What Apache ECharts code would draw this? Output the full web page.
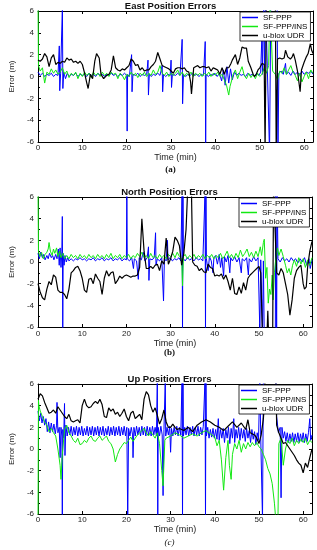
<!DOCTYPE html>
<html>
<head>
<meta charset="utf-8">
<script src="https://cdn.jsdelivr.net/npm/echarts@6/dist/echarts.min.js"></script>
<style>
html,body{margin:0;padding:0;background:#fff;}
#chart{width:317px;height:550px;}
</style>
</head>
<body>
<div id="chart"></div>
<script>
const seriesNames = ['SF-PPP', 'SF-PPP/INS', 'u-blox UDR'];
const panelTitles = ['East Position Errors', 'North Position Errors', 'Up Position Errors'];
const panelCaptions = ['(a)', '(b)', '(c)'];
const xLabel = 'Time (min)';
const yLabel = 'Error (m)';

// ---- East ----
const eastPPP = [[0,0.4],[0.5,0.1],[1,0.3],[1.5,0.0],[2,0.2],[2.5,0.1],[3,0.3],[3.5,0.0],[4,0.2],[4.5,0.1],[4.8,2.8],[4.9,-1.3],[5.1,0.3],[5.5,6.5],[5.6,-1.1],[5.8,0.4],[6.2,-0.2],[6.6,0.3],[7,0.0],[7.5,0.2],[8,0.1],[8.5,0.3],[9,0.0],[9.5,0.2],[10,0.1],[10.5,0.2],[11,0.0],[11.5,0.3],[12,0.1],[12.5,0.2],[13,0.0],[13.5,0.3],[14,0.1],[14.5,0.2],[15,0.0],[15.5,0.2],[16,0.1],[16.5,0.3],[17,0.1],[17.5,0.2],[18,0.0],[18.5,0.2],[19,0.1],[19.5,0.3],[20,0.1],[20.1,-5.0],[20.2,0.2],[20.6,0.0],[21.1,2.0],[21.2,-1.4],[21.4,0.2],[22,0.1],[22.5,0.3],[23,0.0],[23.5,0.2],[24,0.1],[24.5,0.2],[24.8,1.5],[24.9,-1.7],[25.1,0.2],[25.5,0.0],[26,0.2],[26.5,0.1],[27,0.3],[27.5,0.1],[28,1.0],[28.1,-1.4],[28.3,0.2],[28.8,0.0],[29.3,0.2],[29.8,0.1],[30.0,1.5],[30.1,-1.0],[30.3,0.2],[31,0.1],[31.5,0.3],[32,0.1],[32.5,3.4],[32.6,-2.5],[32.8,0.2],[33.3,0.0],[33.8,0.2],[34.3,0.1],[34.8,0.3],[35.3,0.1],[35.8,0.2],[36.3,0.0],[36.8,0.2],[37.3,0.1],[37.7,3.2],[37.8,-6.5],[37.9,0.2],[38.4,0.0],[38.9,0.2],[39.4,0.1],[39.9,0.3],[40.4,0.0],[40.9,0.3],[41.4,-0.4],[41.8,0.6],[42.2,-0.8],[42.6,0.9],[43,-0.6],[43.4,0.7],[43.8,-0.3],[44.3,0.4],[44.8,0.1],[45.3,0.3],[45.8,0.1],[46.3,0.2],[46.8,0.0],[47.3,0.3],[47.8,0.1],[48.3,0.2],[48.8,0.0],[49.3,0.3],[49.8,0.1],[50.2,0.4],[50.5,4.0],[50.6,0.2],[50.9,7],[51.1,0.5],[51.3,7],[51.5,7],[52.2,-7],[52.5,7],[53.9,7],[54.1,-7],[54.3,0.3],[54.8,0.5],[55.3,0.2],[55.8,1.2],[56,0.2],[56.5,0.4],[57,0.1],[57.5,0.5],[58,0.2],[58.5,0.4],[59,0.1],[59.5,0.5],[60,0.2],[60.5,0.4],[61,0.3],[61.5,0.5],[62,0.2]];
const eastINS = [[0,7],[0.1,1.0],[0.5,0.5],[1,0.8],[1.5,-0.6],[2,0.4],[2.5,0.2],[3,0.7],[3.5,0.3],[4,0.6],[4.5,0.2],[5,0.4],[5.5,0.8],[6,0.2],[6.5,0.5],[7,-0.1],[7.5,0.3],[8,0.1],[8.5,0.4],[9,-0.2],[9.5,0.3],[10,0.0],[10.5,0.4],[11,0.1],[11.5,0.3],[12,-0.1],[12.5,0.4],[13,0.1],[13.5,0.3],[14,0.0],[14.5,0.4],[15,0.1],[15.5,0.3],[16,0.0],[16.5,0.4],[17,0.2],[17.5,0.3],[18,-0.2],[18.5,0.3],[19,0.1],[19.5,-0.3],[20,0.2],[20.5,0.0],[21,0.4],[21.5,0.1],[22,0.3],[22.5,-0.1],[23,0.3],[23.5,0.1],[24,0.4],[24.5,0.0],[25,0.3],[25.5,0.1],[26,0.6],[26.5,0.2],[27,0.4],[27.5,1.0],[28,0.3],[28.5,0.1],[29,0.4],[29.5,0.0],[30,0.3],[30.5,0.1],[31,0.3],[31.5,0.6],[32,0.1],[32.5,0.4],[33,0.0],[33.5,0.3],[34,0.1],[34.5,0.4],[35,0.0],[35.5,0.3],[36,0.1],[36.5,0.3],[37,0.0],[37.5,0.3],[38,0.1],[38.5,0.4],[39,0.0],[39.5,0.3],[40,0.1],[40.5,0.4],[41,0.0],[41.5,0.2],[42,-0.3],[42.5,-0.8],[43,-1.7],[43.3,-0.9],[43.7,-0.3],[44,0.2],[44.5,0.6],[45,-0.2],[45.5,0.4],[46,0.9],[46.5,0.1],[47,-0.2],[47.5,0.3],[48,-0.1],[48.5,0.2],[49,-0.2],[49.5,0.3],[50,0.0],[50.5,0.2],[51,0.8],[51.5,0.3],[52,1.0],[52.3,7],[52.7,7],[52.9,0.5],[53.5,0.2],[54,-0.3],[54.5,0.5],[55,0.3],[55.5,0.8],[56,0.2],[56.5,0.6],[57,1.0],[57.5,0.4],[58,0.1],[58.5,-0.4],[59,0.3],[59.5,-0.5],[60,0.0],[60.5,0.4],[61,-0.2],[61.5,0.6],[62,0.3]];
const eastUDR = [[0,1.5],[0.5,1.4],[1,1.6],[1.5,2.1],[2,1.8],[2.5,0.9],[3,1.7],[3.5,2.0],[4,1.1],[4.5,1.3],[5,1.2],[5.5,1.4],[6,1.3],[6.5,1.7],[7,1.5],[7.5,1.6],[8,1.3],[8.5,1.4],[9,1.2],[9.5,1.4],[10,1.1],[10.5,0.3],[11,-0.6],[11.3,-1.1],[11.8,0.2],[12.3,-0.2],[12.8,1.4],[13.2,2.1],[13.8,1.7],[14.2,0.2],[14.8,-0.2],[15.5,0.1],[16,0.2],[16.5,0.6],[17,1.9],[17.5,0.8],[18,0.6],[18.5,0.5],[19,0.7],[19.5,0.6],[20,0.8],[20.5,1.0],[21,1.6],[21.5,1.4],[22,1.0],[22.5,1.1],[23,0.6],[23.5,0.8],[24,0.5],[24.5,0.6],[25,0.6],[25.5,0.9],[26,1.1],[26.5,1.4],[27,2.2],[27.5,1.6],[28,1.0],[28.5,0.9],[29,0.8],[29.5,0.7],[30,0.5],[30.5,0.3],[31,0.7],[31.5,0.8],[32,0.8],[32.5,0.7],[33,0.8],[33.5,0.5],[34,0.4],[34.4,-0.5],[34.6,-1.6],[34.9,-0.2],[35.1,0.8],[35.5,0.9],[36,1.0],[36.5,0.8],[37,0.9],[37.5,0.9],[38,0.8],[38.5,0.9],[39,0.5],[39.5,0.8],[40,0.7],[40.5,0.6],[41,0.2],[41.5,0.8],[42,0.2],[42.5,0.8],[43,0.8],[43.5,1.2],[43.8,1.5],[44.5,2.0],[45,1.1],[45.5,1.7],[46,2.7],[46.5,2.6],[47,2.6],[47.4,1.4],[48,0.8],[48.5,0.2],[48.8,0.0],[49.2,0.2],[49.6,0.6],[50,0.8],[50.5,1.2],[51,1.1],[51.2,-7],[51.5,8],[53.5,8],[53.7,-7],[54,1.6],[54.5,1.7],[55,1.6],[55.5,1.7],[55.8,2.4],[56.3,1.8],[56.9,1.6],[57.3,1.8],[57.6,2.1],[58,1.5],[58.5,0.5],[59.1,-1.4],[59.4,0.6],[60,1.3],[60.5,1.8],[60.9,2.1],[61.4,3.0],[61.7,2.4],[62,2.1]];

// ---- North ----
const northPPP = [[0,0.8],[0.3,0.3],[0.6,0.9],[1,0.4],[1.3,0.7],[1.6,0.2],[2,0.6],[2.3,0.3],[2.6,0.8],[3,0.4],[3.3,0.6],[3.6,0.2],[4,0.7],[4.3,0.3],[4.6,1.2],[4.8,-0.3],[5,1.3],[5.2,-0.5],[5.4,1.0],[5.5,4.2],[5.6,-6.5],[5.7,0.8],[5.9,-0.3],[6.1,0.6],[6.4,0.0],[6.7,0.4],[7,0.1],[7.5,0.3],[8,0.1],[8.5,0.3],[9,0.2],[9.5,0.4],[10,0.2],[10.5,0.3],[11,0.1],[11.5,0.3],[12,0.2],[12.5,0.4],[13,0.1],[13.5,0.3],[14,0.2],[14.5,0.4],[15,0.1],[15.5,0.3],[16,0.2],[16.5,0.4],[17,0.1],[17.5,0.3],[18,0.2],[18.5,0.4],[19,0.1],[19.5,0.3],[20,0.2],[20.1,6.5],[20.2,0.3],[20.7,0.1],[21.2,0.4],[21.6,-0.6],[21.8,0.3],[22.3,0.1],[22.7,-1.6],[22.9,0.4],[23.4,0.2],[23.8,0.9],[24.2,0.1],[24.7,0.4],[25,1.4],[25.1,-1.7],[25.3,0.3],[25.8,0.2],[26.3,0.4],[26.6,2.7],[26.7,-0.3],[27,0.3],[27.5,0.1],[28,0.4],[28.4,-3.6],[28.6,0.3],[29,0.1],[29.3,2.0],[29.4,0.2],[29.9,0.4],[30.4,0.1],[30.9,0.3],[31.4,0.2],[31.9,0.4],[32.3,0.1],[32.6,6.5],[32.7,-6.5],[32.8,6.5],[32.9,0.3],[33.3,0.1],[33.8,0.4],[34.3,0.2],[34.8,0.3],[35.3,0.1],[35.8,0.4],[36.3,0.2],[36.8,0.3],[37.3,0.1],[37.8,6.5],[37.9,-6.5],[38.0,6.5],[38.1,0.3],[38.5,-0.8],[38.8,0.5],[39.2,0.1],[39.6,-1.0],[39.8,0.4],[40.2,0.6],[40.6,-0.2],[41,0.7],[41.3,-0.5],[41.6,0.4],[42,-1.3],[42.2,0.5],[42.6,0.0],[43,0.6],[43.4,-1.0],[43.6,0.4],[44,0.1],[44.5,0.5],[45,0.0],[45.5,0.4],[46,-1.0],[46.2,0.3],[46.7,0.1],[47.2,0.4],[47.6,-1.2],[47.8,0.3],[48.3,0.0],[48.8,0.5],[49.3,0.1],[49.8,0.4],[50.2,-6.5],[50.4,0.2],[50.8,-6.5],[51.0,0.1],[51.2,-7],[53.7,-7],[53.8,7],[54.0,-7],[54.1,7],[54.3,0.3],[54.8,0.0],[55.3,0.4],[55.8,0.1],[56.3,0.3],[56.8,0.0],[57.3,0.4],[57.8,0.1],[58.3,0.3],[58.8,-0.1],[59.3,0.3],[59.8,0.0],[60.3,0.4],[60.8,-0.3],[61.3,0.3],[61.6,-0.6],[62,0.2]];
const northINS = [[0,7],[0.1,1.0],[0.4,0.5],[0.8,0.9],[1.2,0.3],[1.6,0.7],[2,0.9],[2.3,1.2],[2.5,1.8],[2.8,1.0],[3.2,0.6],[3.5,1.2],[3.8,0.8],[4.2,1.3],[4.5,0.5],[4.9,1.0],[5.2,0.4],[5.6,0.8],[6,0.3],[6.5,0.6],[7,0.3],[7.5,0.7],[8,0.4],[8.5,0.6],[9,0.3],[9.5,0.7],[10,0.4],[10.5,0.6],[11,0.3],[11.5,0.7],[12,0.4],[12.5,0.6],[13,0.3],[13.5,0.7],[14,0.4],[14.5,0.6],[15,0.3],[15.5,0.7],[16,0.4],[16.5,0.8],[17,0.3],[17.5,0.6],[18,0.4],[18.5,0.7],[19,0.3],[19.5,0.6],[20,0.4],[20.5,0.7],[21,0.3],[21.5,0.6],[22,0.4],[22.5,0.8],[23,0.5],[23.5,0.9],[24,0.4],[24.5,0.6],[25,0.3],[25.5,0.8],[26,0.4],[26.5,0.6],[27,0.3],[27.5,0.7],[28,0.4],[28.5,0.6],[29,0.3],[29.5,0.7],[30,0.5],[30.5,0.8],[31,0.4],[31.5,0.9],[32,0.5],[32.5,0.3],[32.7,-2.2],[32.9,0.5],[33.3,0.7],[33.8,0.3],[34.3,0.6],[34.8,0.4],[35.3,0.7],[35.8,0.3],[36.3,0.6],[36.8,0.4],[37.3,0.7],[37.8,0.3],[38.3,0.6],[38.8,0.4],[39.3,0.7],[39.8,0.3],[40.3,0.6],[40.8,0.4],[41.3,0.8],[41.8,0.3],[42.3,0.6],[42.8,1.0],[43.3,0.4],[43.8,0.7],[44.3,0.3],[44.8,0.8],[45.3,0.4],[45.8,1.1],[46.3,0.5],[46.8,0.8],[47.3,1.2],[47.8,0.5],[48.3,0.9],[48.8,0.4],[49.3,1.0],[49.8,0.5],[50.3,1.4],[50.6,0.6],[51,1.8],[51.2,2.1],[51.5,-1.5],[51.8,-0.5],[52.1,-3.8],[52.4,-2.5],[52.7,-3.0],[53,-1.2],[53.2,-3.5],[53.5,-1.0],[53.8,0.3],[54.2,1.3],[54.5,0.6],[55,1.2],[55.5,0.5],[56,-0.3],[56.4,-1.0],[56.8,-0.6],[57.2,-1.2],[57.6,-0.3],[58,0.2],[58.5,-0.4],[59,0.4],[59.5,-0.2],[60,0.3],[60.5,-0.5],[61,0.2],[61.5,-0.3],[62,0.4]];
const northUDR = [[0,-2.0],[0.5,-2.8],[1,-3.3],[1.5,-3.5],[2,-2.5],[2.5,-1.8],[3,-2.1],[3.5,-1.2],[4,-1.4],[4.5,-2.6],[5,-2.8],[5.5,-2.8],[6,-3.0],[6.5,-3.4],[7,-2.5],[7.5,-1.0],[8,-0.8],[8.5,-0.5],[9,-0.4],[9.5,-0.8],[10,-1.5],[10.5,-2.6],[11,-2.8],[11.5,-1.6],[12,-1.5],[12.5,-2.0],[13,-1.1],[13.5,-1.5],[14,-1.8],[14.5,-3.0],[15,-1.5],[15.5,-0.8],[16,-1.3],[16.5,-1.0],[17,-0.9],[17.5,-2.0],[18,-1.7],[18.5,-1.3],[19,-1.5],[19.5,-1.3],[20,-1.2],[20.5,-1.3],[21,-1.4],[21.5,-1.3],[22,-1.3],[22.5,-1.2],[23,-0.5],[23.5,4.0],[24,1.0],[24.5,-0.6],[25,-0.6],[25.5,-0.4],[26,-0.6],[26.5,-0.3],[27,-0.2],[27.5,-0.8],[28,0.1],[28.5,-0.2],[29,2.2],[29.5,-0.2],[30,0.3],[30.5,1.0],[31,2.3],[31.5,2.0],[32,1.5],[32.5,-0.3],[33,0.8],[33.5,3.0],[33.9,7],[34.7,7],[35,0.0],[35.5,-0.3],[36,-0.4],[36.5,-0.8],[37,-0.6],[37.5,-0.9],[38,-1.0],[38.5,-0.2],[39,-0.5],[39.5,-0.6],[40,-1.3],[40.5,-1.2],[41,-1.3],[41.5,-1.1],[42,-1.6],[42.5,-1.2],[43,-1.8],[43.5,-2.6],[44,-1.5],[44.5,-2.9],[45,-3.0],[45.5,-2.3],[46,-2.9],[46.5,-1.9],[47,-2.6],[47.5,-1.5],[48,-1.2],[48.5,-1.0],[49,-0.8],[49.5,-0.6],[50,-0.4],[50.4,-1.0],[50.8,-7],[51.8,-7],[52,-4.5],[52.2,-7],[53.1,-7],[53.3,7],[53.7,7],[54,-1.0],[54.5,-1.2],[55,-0.6],[55.5,-1.0],[56,-2.0],[56.5,-3.0],[57,-4.9],[57.5,-3.5],[58,-1.5],[58.5,-0.8],[59,-0.5],[59.5,-0.3],[60,-2.0],[60.3,-2.5],[60.7,-2.3],[61,-0.5],[61.5,1.0],[62,1.9]];

// ---- Up ----
const upPPP = [[0,3.5],[0.3,2.6],[0.6,3.3],[0.9,2.4],[1.2,3.0],[1.5,2.2],[1.8,2.8],[2.1,1.6],[2.4,2.5],[2.7,1.5],[3,2.4],[3.3,1.6],[3.6,2.3],[3.9,1.4],[4.2,2.2],[4.3,4.3],[4.5,1.5],[4.8,2.0],[5,-0.8],[5.2,2.0],[5.4,1.2],[5.5,-6.5],[5.6,1.8],[5.8,1.0],[6,4.2],[6.1,-0.6],[6.3,2.2],[6.6,1.2],[6.9,2.0],[7.2,1.3],[7.5,2.1],[7.8,1.2],[8.1,2.0],[8.4,1.3],[8.7,2.1],[9,1.2],[9.3,2.0],[9.6,1.3],[9.9,2.1],[10.2,1.2],[10.5,1.9],[10.8,1.3],[11.1,2.1],[11.4,1.2],[11.7,2.0],[12,1.3],[12.3,2.1],[12.6,1.2],[12.9,2.0],[13.2,1.3],[13.5,2.1],[13.8,1.2],[14.1,2.0],[14.4,1.3],[14.7,2.1],[15,1.2],[15.3,1.9],[15.6,1.3],[15.9,2.1],[16.2,1.2],[16.5,2.0],[16.8,1.3],[17.1,2.1],[17.4,1.2],[17.7,2.0],[18,1.3],[18.3,2.1],[18.6,1.2],[18.9,2.0],[19.2,1.3],[19.5,2.1],[19.8,1.2],[20.1,2.0],[20.3,-6.5],[20.5,1.9],[20.8,1.2],[21.1,2.0],[21.4,1.3],[21.5,-0.8],[21.7,2.0],[22,1.2],[22.3,2.1],[22.6,1.3],[22.9,2.0],[23.2,1.2],[23.5,2.1],[23.8,1.3],[24.1,2.0],[24.4,1.2],[24.7,2.1],[25,1.3],[25.3,2.0],[25.6,1.2],[25.9,2.1],[26.2,1.3],[26.5,2.0],[26.8,1.2],[27,6.5],[27.1,-6.5],[27.2,2.0],[27.5,1.2],[27.8,2.1],[28.1,1.3],[28.3,-4.3],[28.5,1.8],[28.8,6.5],[28.9,1.2],[29.2,2.0],[29.5,1.3],[29.8,2.1],[30,-0.3],[30.2,1.9],[30.5,1.2],[30.8,2.0],[31.1,1.3],[31.4,2.1],[31.7,1.2],[32,2.0],[32.3,1.3],[32.6,6.5],[32.7,-6.5],[32.8,6.5],[32.9,1.2],[33.2,2.0],[33.5,1.3],[33.8,2.1],[34.1,1.2],[34.4,2.0],[34.7,1.3],[35,2.1],[35.3,1.2],[35.6,2.0],[35.9,1.3],[36.2,2.1],[36.5,1.2],[36.8,2.0],[37.1,1.3],[37.4,2.1],[37.8,6.5],[37.9,-6.5],[38,6.5],[38.1,1.2],[38.4,2.0],[38.7,1.0],[39,1.8],[39.3,1.1],[39.6,1.9],[39.9,1.0],[40.2,1.8],[40.5,0.9],[40.8,2.8],[41,0.8],[41.3,1.8],[41.6,1.0],[41.9,1.9],[42.2,0.6],[42.5,1.8],[42.8,1.0],[43.1,2.0],[43.4,0.5],[43.7,1.9],[44,1.0],[44.3,2.8],[44.5,0.6],[44.8,1.8],[45.1,1.0],[45.4,2.0],[45.7,0.8],[46,1.9],[46.3,1.0],[46.6,1.8],[46.9,0.7],[47.2,1.9],[47.5,1.0],[47.8,1.7],[48.1,0.6],[48.4,1.8],[48.7,0.9],[49,1.6],[49.3,0.4],[49.6,1.5],[49.9,0.8],[50.2,6.5],[50.4,1.0],[50.8,-6.5],[51,7],[53.8,7],[54,3.0],[54.4,1.5],[54.8,2.0],[55,-4.5],[55.2,2.0],[55.5,1.0],[55.8,1.6],[56.1,0.7],[56.4,1.5],[56.7,0.6],[57,1.4],[57.3,0.7],[57.6,1.5],[57.9,0.6],[58.2,1.4],[58.5,0.7],[58.8,1.5],[59.1,0.6],[59.4,1.4],[59.7,0.7],[60,1.5],[60.3,0.6],[60.6,1.4],[60.9,0.7],[61.2,1.5],[61.5,2.8],[61.7,0.8],[62,1.3]];
const upINS = [[0,-7],[0.1,4.5],[0.2,4.0],[0.5,3.5],[1,3.0],[1.5,2.5],[2,2.2],[2.5,1.6],[3,1.9],[3.5,1.5],[4,1.2],[4.5,0.0],[5,-1.5],[5.2,-2.8],[5.5,-0.5],[6,1.8],[6.5,2.2],[7,1.5],[7.5,1.2],[8,0.8],[8.5,0.6],[9,1.0],[9.5,0.4],[10,0.5],[10.5,0.8],[11,0.6],[11.5,1.0],[12,1.2],[12.5,0.8],[13,0.7],[13.5,1.0],[14,1.2],[14.5,0.8],[15,1.0],[15.5,1.2],[16,0.7],[16.5,0.5],[17,0.0],[17.5,-1.2],[18,-0.5],[18.5,0.0],[19,0.3],[19.5,0.6],[20,0.5],[20.5,0.8],[21,1.1],[21.5,0.7],[22,1.0],[22.5,1.3],[23,1.5],[23.5,1.7],[24,1.9],[24.5,1.5],[25,1.2],[25.5,1.6],[26,1.3],[26.5,1.0],[27,1.5],[27.5,0.5],[28,-2.0],[28.3,-3.4],[28.7,0.8],[29,1.0],[30,1.2],[31,1.5],[32,1.3],[33,1.0],[34,1.2],[35,1.4],[36,1.2],[37,1.5],[38,1.7],[39,1.4],[40,1.1],[40.5,0.3],[41,0.8],[41.5,-1.0],[42,-3.8],[42.5,-0.8],[43,0.8],[43.3,-1.5],[43.7,-2.8],[44,-0.5],[44.5,0.5],[45,0.0],[45.5,0.8],[46,-0.3],[46.5,0.5],[47,0.0],[47.5,0.6],[48,0.2],[48.5,0.6],[49,0.3],[49.5,0.6],[50,0.2],[50.5,0.0],[51,-0.5],[51.5,-1.0],[52,-1.8],[52.5,-2.3],[53,-3.2],[53.5,-5.0],[53.8,-6.5],[54.3,-6.5],[54.5,0.5],[55,1.0],[55.5,-1.5],[56,0.0],[56.5,0.8],[57,0.5],[57.5,1.0],[58,0.3],[58.5,0.8],[59,0.5],[59.5,0.9],[60,0.6],[60.5,1.0],[61,0.4],[61.5,0.8],[62,0.6]];
const upUDR = [[0,4.6],[0.5,5.1],[1,4.9],[1.5,4.3],[2,3.8],[2.5,3.3],[3,3.4],[3.5,3.6],[4,3.3],[4.5,3.9],[5,3.6],[5.5,3.3],[6,3.0],[6.5,2.8],[7,3.2],[7.5,2.6],[8,2.5],[8.5,2.6],[9,2.7],[9.5,2.4],[10,4.0],[10.5,4.6],[11,4.0],[11.5,3.8],[12,3.9],[12.5,4.2],[13,4.4],[13.5,4.2],[14,4.6],[14.5,4.1],[15,3.0],[15.5,2.9],[16,3.8],[16.5,3.5],[17,3.7],[17.5,3.2],[18,3.4],[18.5,3.0],[19,3.3],[19.5,3.7],[20,3.0],[20.5,2.6],[21,3.3],[21.5,3.5],[22,2.8],[22.5,3.0],[23,3.2],[23.5,2.7],[24,4.6],[24.5,5.3],[25,5.0],[25.5,4.0],[26,3.4],[26.5,3.8],[27,3.1],[27.5,2.3],[28,2.8],[28.5,3.6],[29,2.5],[29.5,2.0],[30,2.0],[30.5,2.3],[31,2.0],[31.5,1.8],[32,1.9],[33,1.7],[34,2.0],[35,1.6],[36,2.2],[37,2.5],[38,2.7],[39,2.5],[40,2.2],[41,2.0],[42,1.7],[43,2.1],[44,2.5],[45,2.0],[46,2.4],[47,1.8],[47.5,2.7],[48,1.5],[49,1.3],[49.5,1.0],[50,0.5],[50.5,1.3],[51,2.8],[51.2,4.0],[51.4,7],[53.8,7],[54,2.2],[54.5,1.5],[55,1.0],[55.5,0.5],[56,0.6],[56.5,0.3],[57,0.0],[57.5,-0.3],[58,-0.6],[58.5,-1.0],[59,-1.3],[59.5,-1.5],[60,-2.2],[60.5,-1.3],[61,-1.7],[61.5,-0.8],[62,0.0]];

const panelData = [[eastPPP, eastINS, eastUDR], [northPPP, northINS, northUDR], [upPPP, upINS, upUDR]];
const seriesColors = ['#0000ff', '#12e812', '#000000'];
const seriesWidths = [1, 1, 1.2];

const grids = [
  {left: 28, top: 11, width: 285, height: 131},
  {left: 27, top: 197, width: 285, height: 130},
  {left: 27, top: 384, width: 285, height: 130}
];
const titleY = [6, 192, 379];
const captionY = [170, 353, 543];
const captionStyle = ['bold 9px "Liberation Serif"', 'bold 9px "Liberation Serif"', 'italic 9px "Liberation Serif"'];
const nameGaps = [9, 11, 10];
const labelMargins = [2, 3, 2];

const font = 'Liberation Sans';
const xAxes = [], yAxes = [], series = [], legends = [], graphics = [];
grids.forEach((g, i) => {
  xAxes.push({
    gridIndex: i, type: 'value', min: 0, max: 62, interval: 10, position: 'bottom',
    axisLine: {show: true, onZero: false, lineStyle: {color: '#000', width: 1}},
    axisTick: {show: true, inside: true, length: 3, lineStyle: {color: '#000'}},
    axisLabel: {fontSize: 8, fontFamily: font, color: '#222', margin: labelMargins[i],
      formatter: v => (v % 10 === 0 ? String(v) : '')},
    splitLine: {show: false},
    name: xLabel, nameLocation: 'middle', nameGap: nameGaps[i],
    nameTextStyle: {fontSize: 9, fontFamily: font, color: '#222'}
  });
  yAxes.push({
    gridIndex: i, type: 'value', min: -6, max: 6, interval: 2, position: 'left',
    axisLine: {show: true, onZero: false, lineStyle: {color: '#000', width: 1}},
    axisTick: {show: true, inside: true, length: 3, lineStyle: {color: '#000'}},
    minorTick: {show: true, splitNumber: 2, length: 2, lineStyle: {color: '#000'}},
    axisLabel: {fontSize: 8, fontFamily: font, color: '#222', margin: 4},
    splitLine: {show: false},
    name: yLabel, nameLocation: 'middle', nameGap: 15, nameRotate: 90,
    nameTextStyle: {fontSize: 8, fontFamily: font, color: '#222'}
  });
});
grids.forEach((g, i) => {
  xAxes.push({
    gridIndex: i, type: 'value', min: 0, max: 62, interval: 10, position: 'top',
    axisLine: {show: true, onZero: false, lineStyle: {color: '#000', width: 1}},
    axisTick: {show: true, inside: true, length: 3, lineStyle: {color: '#000'}},
    axisLabel: {show: false}, splitLine: {show: false}
  });
  yAxes.push({
    gridIndex: i, type: 'value', min: -6, max: 6, interval: 2, position: 'right',
    axisLine: {show: true, onZero: false, lineStyle: {color: '#000', width: 1}},
    axisTick: {show: true, inside: true, length: 3, lineStyle: {color: '#000'}},
    minorTick: {show: true, splitNumber: 2, length: 2, lineStyle: {color: '#000'}},
    axisLabel: {show: false}, splitLine: {show: false}
  });
  panelData[i].forEach((d, k) => {
    series.push({
      name: seriesNames[k], type: 'line', xAxisIndex: i, yAxisIndex: i,
      data: d, showSymbol: false, symbol: 'none', clip: true,
      lineStyle: {color: seriesColors[k], width: seriesWidths[k]},
      itemStyle: {color: seriesColors[k]}, z: 2 + k
    });
  });
  legends.push({
    orient: 'vertical', left: g.left + 212, top: g.top + 1,
    data: seriesNames.map(n => ({name: n, icon: 'rect'})),
    itemWidth: 16, itemHeight: 1.5, itemGap: 0,
    padding: [1, 3, 1, 2], backgroundColor: '#fff',
    borderColor: '#000', borderWidth: 0.8, selectedMode: false,
    textStyle: {fontSize: 8, fontFamily: font, color: '#000', lineHeight: 9, padding: [0, 0, 0, 0]},
    z: 10
  });
  graphics.push({
    type: 'text', x: g.left + g.width / 2, y: titleY[i],
    style: {text: panelTitles[i], font: 'bold 9.5px "Liberation Sans"', fill: '#111',
      textAlign: 'center', textVerticalAlign: 'middle'}
  });
  graphics.push({
    type: 'text', x: g.left + g.width / 2, y: captionY[i],
    style: {text: panelCaptions[i], font: captionStyle[i], fill: '#111',
      textAlign: 'center', textVerticalAlign: 'middle'}
  });
});

const chart = echarts.init(document.getElementById('chart'), null, {renderer: 'canvas'});
chart.setOption({
  animation: false,
  backgroundColor: '#fff',
  grid: grids.map(g => Object.assign({containLabel: false}, g)),
  xAxis: xAxes, yAxis: yAxes, series: series, legend: legends, graphic: graphics
});
</script>
</body>
</html>
